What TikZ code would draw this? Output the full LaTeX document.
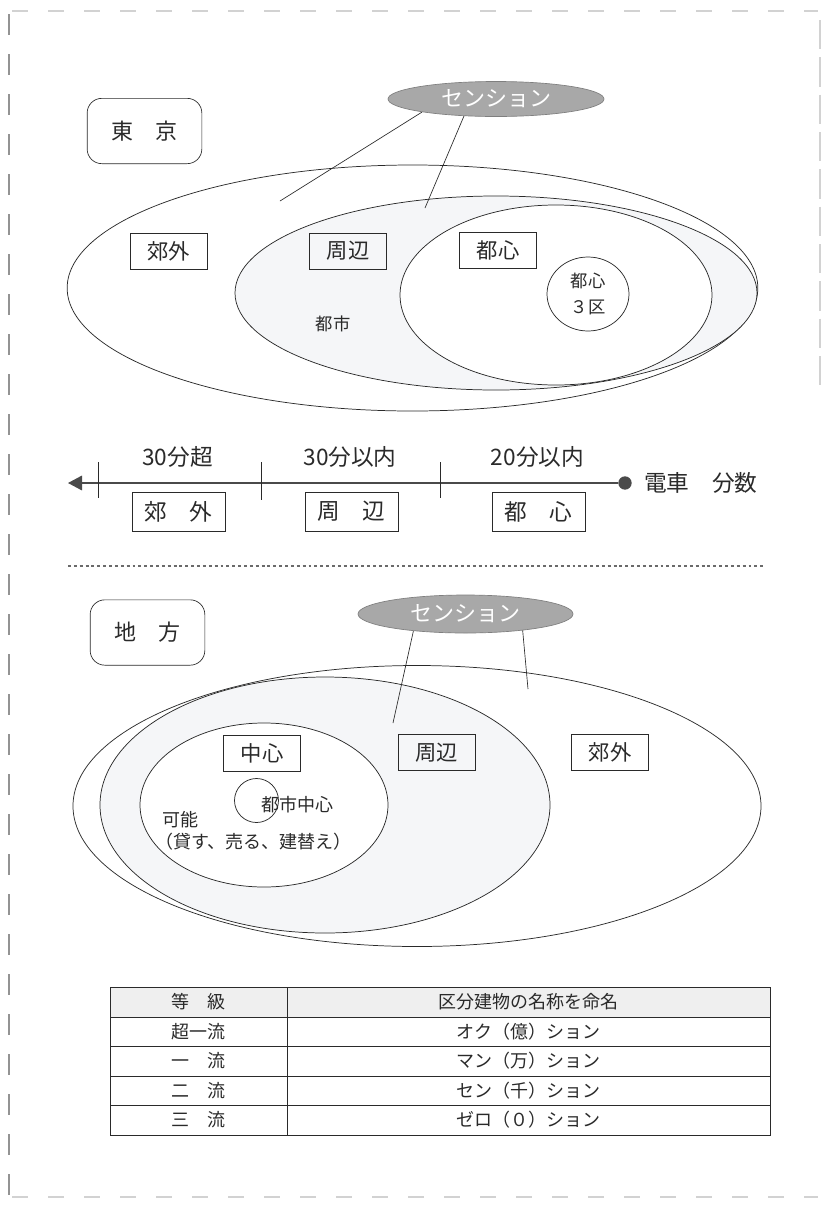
\documentclass[tikz,border=0pt]{standalone}
\usepackage{fontspec}
\setmainfont{Noto Sans CJK JP}
\usetikzlibrary{shapes.geometric,arrows.meta}
\definecolor{ink}{HTML}{2A2A2A}
\definecolor{zonefill}{HTML}{F5F6F8}
\definecolor{pillfill}{HTML}{A8A8A8}
\definecolor{headfill}{HTML}{EFEFEF}
\definecolor{scan}{HTML}{D2D2D2}
\begin{document}
\begin{tikzpicture}[x=0.75pt,y=-0.75pt,
  zone/.style={ellipse,draw=ink,line width=0.55pt,inner sep=0pt},
  pill/.style={ellipse,draw=ink!60,line width=0.5pt,fill=pillfill,inner sep=0pt,text=white,font=\fontsize{16.5}{18}\selectfont},
  tag/.style={draw=ink,line width=0.5pt,minimum width=58pt,minimum height=27pt,inner sep=0pt,text=ink,font=\fontsize{16}{18}\selectfont},
  bigtag/.style={draw=ink,line width=0.5pt,minimum width=70pt,minimum height=29pt,inner sep=0pt,text=ink,font=\fontsize{17}{19}\selectfont},
  region/.style={draw=ink,line width=0.5pt,rounded corners=11pt,minimum width=86pt,minimum height=49pt,inner sep=0pt,text=ink,font=\fontsize{16.5}{19}\selectfont},
  lbl/.style={inner sep=0pt,text=ink,font=\fontsize{13.5}{17}\selectfont},
  tlbl/.style={inner sep=0pt,text=ink,font=\fontsize{17}{19}\selectfont},
  cell/.style={inner sep=0pt,text=ink,font=\fontsize{13.5}{15}\selectfont},
  link/.style={draw=ink,line width=0.5pt},
  scanline/.style={draw=scan,line width=1.6pt}
]
\fill[white] (0,0) rectangle (823,1207);
\useasboundingbox (0,0) rectangle (823,1207);

% scan edges
\draw[scanline,dash pattern=on 12pt off 15pt] (12,11) -- (818,11);
\draw[scanline,dash pattern=on 12pt off 15pt] (12,1197) -- (818,1197);
\draw[draw=scan!70!black,line width=1pt,dash pattern=on 16pt off 14pt] (9,14) -- (9,1195);
\draw[scanline,line width=2.2pt,dash pattern=on 22pt off 6pt] (820,20) -- (820,390);

% ---------- Tokyo ----------
\node[region] (tokyo) at (144.5,131) {東　京};
\node[zone,fill=white,minimum width=518pt,minimum height=184.5pt] (tout) at (412.5,288) {};
\node[zone,fill=zonefill,minimum width=391.5pt,minimum height=145.5pt] (tmid) at (496,293) {};
\node[zone,fill=white,minimum width=234pt,minimum height=135pt] (tin) at (556,295) {};
\node[zone,fill=white,minimum width=61.5pt,minimum height=55.5pt,align=center,lbl,font=\fontsize{13}{19.5}\selectfont] (t3ku) at (588,294) {都心\\３区};
\node[tag] (tkogai) at (168.5,251) {郊外};
\node[tag] (tshuhen) at (348,251) {周辺};
\node[tag] (ttoshin) at (498,250) {都心};
\node[lbl,font=\fontsize{13}{15}\selectfont] (ttoshi) at (333,324) {都市};
\node[pill,minimum width=162pt,minimum height=26.25pt] (tsen) at (496,99) {センション};
\coordinate (tend1) at (280,201);
\coordinate (tend2) at (425,208);
\draw[link] (tsen.190) -- (tend1);
\draw[link] (tsen.208) -- (tend2);

% ---------- timeline ----------
\node[circle,fill=ink!85,inner sep=0pt,minimum size=10pt] (dot) at (625,483) {};
\coordinate (tip) at (68,483);
\draw[ink!85,line width=0.9pt,-{Triangle[length=10.5pt,width=11pt]}] (dot) -- (tip);
\coordinate (k1a) at (98,462); \coordinate (k1b) at (98,498);
\coordinate (k2a) at (261,462); \coordinate (k2b) at (261,500);
\coordinate (k3a) at (440,462); \coordinate (k3b) at (440,498);
\draw[link,line width=0.6pt] (k1a) -- (k1b);
\draw[link,line width=0.6pt] (k2a) -- (k2b);
\draw[link,line width=0.6pt] (k3a) -- (k3b);
\node[tlbl] (l30o) at (177.5,457) {30分超};
\node[tlbl] (l30i) at (350,457) {30分以内};
\node[tlbl] (l20i) at (537.5,457) {20分以内};
\node[bigtag] (bkogai) at (178.5,511.5) {郊　外};
\node[bigtag] (bshuhen) at (351.5,511.5) {周　辺};
\node[bigtag] (btoshin) at (538.5,511.5) {都　心};
\node[tlbl,anchor=west] (densha) at (644,483) {電車　分数};

% separator
\coordinate (sepl) at (68,566);
\coordinate (sepr) at (763,566);
\draw[ink!70,line width=0.8pt,dash pattern=on 2.2pt off 2.2pt] (sepl) -- (sepr);

% ---------- Chiho ----------
\node[region] (chiho) at (147.5,632.5) {地　方};
\node[zone,fill=white,minimum width=516pt,minimum height=210.75pt] (cout) at (417,806) {};
\node[zone,fill=zonefill,minimum width=337.5pt,minimum height=192pt] (cmid) at (325,805) {};
\node[zone,fill=white,minimum width=186pt,minimum height=123pt] (cin) at (264,805) {};
\node[circle,draw=ink,line width=0.55pt,inner sep=0pt,minimum size=33pt] (ccirc) at (256.5,800.5) {};
\node[lbl] (ctoshi) at (297,805) {都市中心};
\node[lbl,anchor=west] (ckanou) at (162,820) {可能};
\node[lbl,anchor=west] (cnote) at (155,842) {（貸す、売る、建替え）};
\node[tag] (cchushin) at (262,753) {中心};
\node[tag] (cshuhen) at (436.5,752.5) {周辺};
\node[tag] (ckogai) at (610,752) {郊外};
\node[pill,minimum width=161.25pt,minimum height=28.5pt] (csen) at (465.5,614) {センション};
\coordinate (cend1) at (393,723);
\coordinate (cend2) at (528,689);
\draw[link] (csen.198) -- (cend1);
\draw[link] (csen.344) -- (cend2);

% ---------- table ----------
\fill[headfill] (110,987) rectangle (770,1017);
\draw[ink,line width=0.6pt] (110,987) rectangle (770,1135);
\draw[ink,line width=0.5pt] (287,987) -- (287,1135);
\foreach \yy in {1017,1046,1076,1105} \draw[ink,line width=0.5pt] (110,\yy) -- (770,\yy);
\node[cell] (h1) at (198.5,1002) {等　級};
\node[cell] (h2) at (528.5,1002) {区分建物の名称を命名};
\node[cell] (r1a) at (198.5,1031.5) {超一流};
\node[cell] (r1b) at (528.5,1031.5) {オク（億）ション};
\node[cell] (r2a) at (198.5,1061) {一　流};
\node[cell] (r2b) at (528.5,1061) {マン（万）ション};
\node[cell] (r3a) at (198.5,1090.5) {二　流};
\node[cell] (r3b) at (528.5,1090.5) {セン（千）ション};
\node[cell] (r4a) at (198.5,1120) {三　流};
\node[cell] (r4b) at (528.5,1120) {ゼロ（０）ション};
\end{tikzpicture}
\end{document}
